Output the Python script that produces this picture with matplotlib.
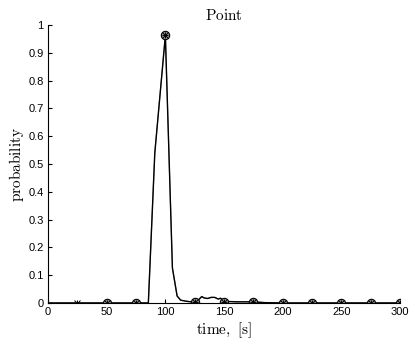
import numpy as np
import matplotlib.pyplot as plt

plt.rcParams['mathtext.fontset'] = 'cm'

# dense probability trace
t = [0, 25, 50, 75, 85.5, 91, 100, 106, 110, 113, 118, 122, 125, 128, 131,
     133, 136, 139, 142, 145, 147, 150, 160, 175, 185, 200, 225, 250, 275, 300]
p = [0, 0, 0, 0, 0, 0.54, 0.963, 0.126, 0.025, 0.01, 0.006, 0.004, 0.004, 0.01, 0.023,
     0.018, 0.016, 0.02, 0.02, 0.014, 0.017, 0.006, 0.004, 0.004, 0.001, 0, 0, 0, 0, 0]

# sampled points every 25 s
t_mark = [25, 50, 75, 100, 125, 150, 175, 200, 225, 250, 275, 300]
p_mark = [0, 0, 0, 0.963, 0.004, 0.005, 0.004, 0, 0, 0, 0, 0]
t_circ = t_mark[1:]
p_circ = p_mark[1:]

fig = plt.figure(figsize=(4.1, 3.4), dpi=100)
ax = fig.add_axes([0.117, 0.109, 0.859, 0.817])

ax.plot(t, p, color='0.55', lw=0.8)
ax.plot(t, p, color='black', lw=1.0)
ax.plot(t_circ, p_circ, ls='none', marker='o', ms=6, mfc='0.6', mec='black', mew=0.8)
ax.plot(t_mark, p_mark, ls='none', marker='+', ms=5, mec='black', mew=0.7)
ax.plot(t_mark, p_mark, ls='none', marker='x', ms=4, mec='black', mew=0.7)

ax.set_xlim(0, 300)
ax.set_ylim(0, 1)
ax.set_xticks(np.arange(0, 301, 50))
ax.set_yticks(np.arange(0, 1.01, 0.1))
ax.set_yticklabels(['0', '0.1', '0.2', '0.3', '0.4', '0.5', '0.6', '0.7', '0.8', '0.9', '1'])
for lab in ax.get_xticklabels() + ax.get_yticklabels():
    lab.set_fontfamily('Liberation Sans')
    lab.set_fontsize(8)
ax.tick_params(direction='in', length=3, width=0.8, pad=3)
ax.spines['top'].set_visible(False)
ax.spines['right'].set_visible(False)

ax.set_title(r'$\mathrm{Point}$', fontsize=11, pad=4)
ax.set_xlabel(r'$\mathrm{time,\ [s]}$', fontsize=11, labelpad=2)
ax.set_ylabel(r'$\mathrm{probability}$', fontsize=11, labelpad=2)

fig.savefig('out.png', dpi=100)
